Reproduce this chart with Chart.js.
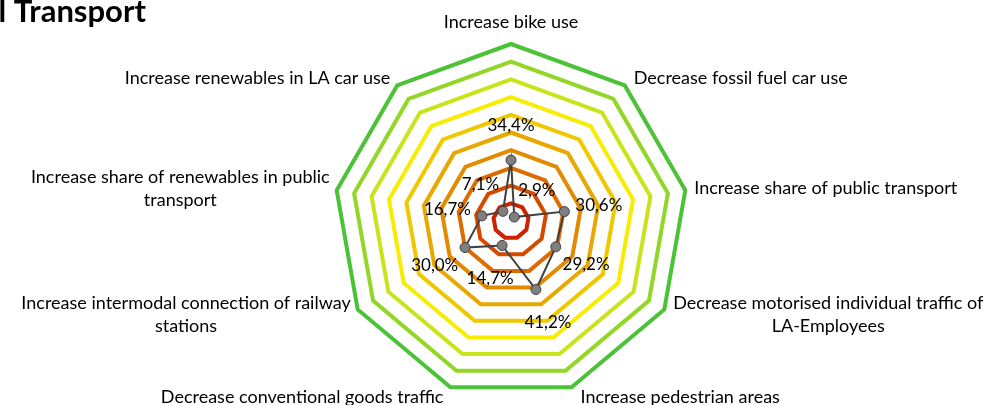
<!DOCTYPE html>
<html>
<head>
<meta charset="utf-8">
<title>Transport radar</title>
<script src="https://cdn.jsdelivr.net/npm/chart.js@4/dist/chart.umd.min.js"></script>
<style>
  html, body { margin: 0; padding: 0; background: #fff; }
  #radar { display: block; }
</style>
</head>
<body>
<canvas id="radar" width="985" height="405"></canvas>
<script>
"use strict";

// chart data
const categories = [
    ['Increase bike use'],
    ['Decrease fossil fuel car use'],
    ['Increase share of public transport'],
    ['Decrease motorised individual traffic of', 'LA-Employees'],
    ['Increase pedestrian areas'],
    ['Decrease conventional goods traffic'],
    ['Increase intermodal connection of railway', 'stations'],
    ['Increase share of renewables in public', 'transport'],
    ['Increase renewables in LA car use']
];
const shares = [34.4, 2.9, 30.6, 29.2, 41.2, 14.7, 30.0, 16.7, 7.1];
const titleText = 'l Transport';

// ring colours, inner to outer
const ringColors = ['#cc2200', '#d64a00', '#dc6c00', '#e28a00', '#e8a800',
    '#f0c800', '#f8ec00', '#c8e41a', '#92d628', '#4cc236'];

const FONT = 'Lato, "Open Sans", sans-serif';

function fmt(v) {
    return v.toFixed(1).replace('.', ',') + '%';
}

const overlay = {
    id: 'overlay',
    afterDatasetsDraw: function (chart) {
        const ctx = chart.ctx;
        const scale = chart.scales.r;
        const R = scale.drawingArea;
        ctx.save();
        ctx.fillStyle = '#000';

        // title (cut at the left edge like the original)
        ctx.font = 'bold 31px ' + FONT;
        ctx.textAlign = 'right';
        ctx.textBaseline = 'alphabetic';
        ctx.fillText(titleText, 146, 22);

        ctx.font = '18px ' + FONT;
        ctx.textBaseline = 'middle';
        const lineH = 22.5;

        // category labels
        categories.forEach(function (lines, i) {
            const angle = i / categories.length * Math.PI * 2;
            const s = Math.sin(angle), c = Math.cos(angle);
            const p = scale.getPointPosition(i, R);
            const w = Math.max.apply(null, lines.map(function (t) { return ctx.measureText(t).width; }));
            let cx;
            if (Math.abs(s) < 0.05) cx = p.x;
            else if (s > 0) cx = p.x + 9 + w / 2;
            else cx = p.x - 7 - w / 2;
            let top;
            if (Math.abs(s) < 0.05 && c > 0) {
                top = p.y - 11 - lines.length * lineH;
            } else {
                top = p.y - 10 * c - lines.length * lineH / 2;
            }
            ctx.textAlign = 'center';
            lines.forEach(function (t, k) {
                ctx.fillText(t, cx, top + lineH * (k + 0.5));
            });
        });

        // value labels
        ctx.font = '17px ' + FONT;
        ctx.textAlign = 'center';
        shares.forEach(function (v, i) {
            const d = scale.getDistanceFromCenterForValue(v) + 35;
            const p = scale.getPointPosition(i, d);
            ctx.fillText(fmt(v), p.x, p.y);
        });
        ctx.restore();
    }
};

const ctx = document.getElementById('radar').getContext('2d');
window.myRadar = new Chart(ctx, {
    type: 'radar',
    data: {
        labels: categories,
        datasets: [{
            label: 'Share',
            data: shares,
            borderColor: '#404040',
            borderWidth: 2,
            backgroundColor: 'rgba(0,0,0,0)',
            fill: false,
            pointRadius: 5,
            pointBackgroundColor: '#7f7f7f',
            pointBorderColor: '#404040',
            pointBorderWidth: 1
        }]
    },
    options: {
        responsive: false,
        animation: false,
        layout: {
            padding: { top: 44, bottom: 6, left: 333, right: 296 }
        },
        plugins: {
            legend: { display: false },
            title: { display: false },
            tooltip: { enabled: false }
        },
        scales: {
            r: {
                min: 0,
                max: 100,
                ticks: { display: false, stepSize: 10 },
                pointLabels: { display: false },
                angleLines: { display: false },
                grid: {
                    circular: false,
                    lineWidth: 4,
                    color: function (c) { return ringColors[(c.index - 1 + 10) % 10]; }
                }
            }
        }
    },
    plugins: [overlay]
});
</script>
</body>
</html>
